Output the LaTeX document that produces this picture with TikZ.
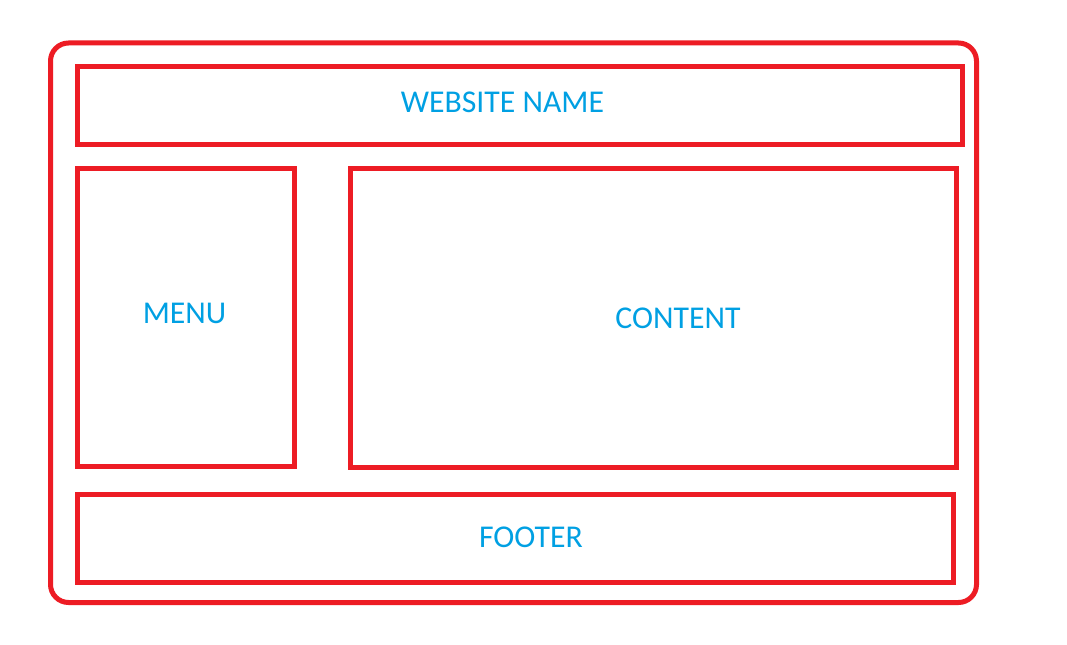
\documentclass[tikz,border=0pt]{standalone}
\usepackage{fontspec}
\setmainfont{Carlito}
\definecolor{framered}{RGB}{237,28,36}
\definecolor{labelblue}{RGB}{0,160,227}
\begin{document}
\begin{tikzpicture}[x=0.75pt,y=-0.75pt,
  frame/.style={draw=framered,line width=3.75pt},
  label/.style={text=labelblue,inner sep=0pt,font=\fontsize{23.8}{28}\selectfont}]
\useasboundingbox[fill=white] (0,0) rectangle (1067,645);
% page outline
\draw[frame,rounded corners=13.5pt] (50.5,43) rectangle (976.5,602.5);
% layout regions
\draw[frame] (77,67) rectangle (962,144.5);
\draw[frame] (77,169) rectangle (294.5,466);
\draw[frame] (350.5,168.5) rectangle (956,467);
\draw[frame] (77,494.5) rectangle (953,582.5);
% region labels
\node[label] (name) at (502.5,102.5) {WEBSITE NAME};
\node[label] (menu) at (184.5,313) {MENU};
\node[label] (content) at (678,318) {CONTENT};
\node[label] (footer) at (531,537) {FOOTER};
\end{tikzpicture}
\end{document}
